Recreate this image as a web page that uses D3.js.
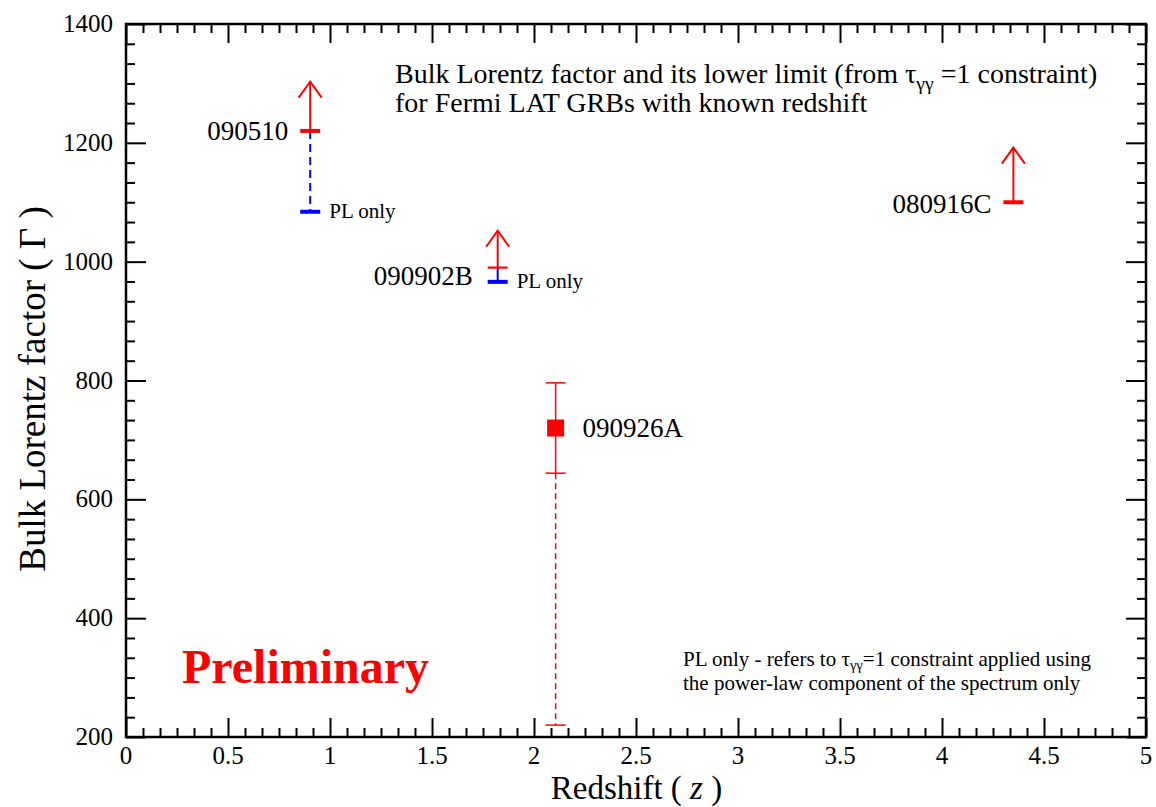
<!DOCTYPE html>
<html><head><meta charset="utf-8">
<script src="https://cdn.jsdelivr.net/npm/d3@7"></script>
<style>body{margin:0;background:#fff}svg text{font-family:"Liberation Serif","Times New Roman",serif}</style>
</head><body><svg id="c" width="1156" height="807"></svg>
<script>
// ---- data ----
const xTicks = [0, 0.5, 1, 1.5, 2, 2.5, 3, 3.5, 4, 4.5, 5];
const yTicks = [200, 400, 600, 800, 1000, 1200, 1400];
// lower limits (tau_gg = 1 constraint)
const limitNames = ["090510", "090902B", "080916C"];
const limitZ = [0.903, 1.822, 4.35];
const limitGamma = [1220, 990, 1100];
const limitArrowTip = [1303, 1052, 1192];
// PL-only lower limits
const plNames = ["090510", "090902B"];
const plZ = [0.903, 1.822];
const plGamma = [1084, 966];
// measured value
const measName = ["090926A"];
const measZ = [2.106];
const measGamma = [720];
const measHigh = [796];
const measLow = [644];
const measLowest = [220];

// ---- layout ----
const svg = d3.select("#c");
const L = 126, R = 1146, T = 24, B = 737;
const x = d3.scaleLinear().domain([0, 5]).range([L, R]);
const y = d3.scaleLinear().domain([200, 1400]).range([B, T]);
const RED = "#ff0000", BLUE = "#0000ff";

// minor ticks
const xMinor = d3.range(0, 5.0001, 0.5 / 6).filter(v => Math.abs(v / 0.5 - Math.round(v / 0.5)) > 1e-6);
const yMinor = d3.range(200, 1400.001, 200 / 6).filter(v => Math.abs(v / 200 - Math.round(v / 200)) > 1e-6);

function axisG(axis, tx, ty) {
  const g = svg.append("g").attr("transform", `translate(${tx},${ty})`).call(axis);
  g.select(".domain").remove();
  g.selectAll("line").attr("stroke", "#000").attr("stroke-width", 2);
  return g;
}
// bottom
const gxb = axisG(d3.axisTop(x).tickValues(xTicks).tickSize(19).tickFormat(d3.format("")), 0, B);
gxb.selectAll("text").remove();
axisG(d3.axisTop(x).tickValues(xMinor).tickSize(9).tickFormat(""), 0, B);
// top
axisG(d3.axisBottom(x).tickValues(xTicks).tickSize(19).tickFormat(""), 0, T);
axisG(d3.axisBottom(x).tickValues(xMinor).tickSize(9).tickFormat(""), 0, T);
// left
axisG(d3.axisRight(y).tickValues(yTicks).tickSize(20).tickFormat(""), L, 0);
axisG(d3.axisRight(y).tickValues(yMinor).tickSize(9).tickFormat(""), L, 0);
// right
axisG(d3.axisLeft(y).tickValues(yTicks).tickSize(20).tickFormat(""), R, 0);
axisG(d3.axisLeft(y).tickValues(yMinor).tickSize(9).tickFormat(""), R, 0);

// tick labels
svg.append("g").selectAll("text").data(xTicks).join("text")
  .attr("x", d => x(d)).attr("y", B + 27).attr("text-anchor", "middle")
  .attr("font-size", 25).text(d => d3.format("")(d));
svg.append("g").selectAll("text").data(yTicks).join("text")
  .attr("x", L - 13).attr("y", d => y(d) + 8).attr("text-anchor", "end")
  .attr("font-size", 25).text(d => d);

// frame
svg.append("rect").attr("x", L).attr("y", T).attr("width", R - L).attr("height", B - T)
  .attr("fill", "none").attr("stroke", "#000").attr("stroke-width", 2.5);

// axis titles
const xt = svg.append("text").attr("x", 636.5).attr("y", 799).attr("text-anchor", "middle").attr("font-size", 33);
xt.append("tspan").text("Redshift ( ");
xt.append("tspan").attr("font-style", "italic").text("z");
xt.append("tspan").text(" )");
svg.append("text").attr("transform", `translate(45,389) rotate(-90)`)
  .attr("text-anchor", "middle").attr("font-size", 37).text("Bulk Lorentz factor ( Γ )");

// ---- marks ----
const capW = 10;
const capStroke = {"090510": 4, "090902B": 2.2, "080916C": 4};
const labelPos = {"090510": [-22, 9], "090902B": [-25, 17], "080916C": [-22, 11]};

// PL-only blue segments
plNames.forEach((n, i) => {
  const li = limitNames.indexOf(n);
  const cx = x(plZ[i]);
  svg.append("line").attr("x1", cx).attr("x2", cx)
    .attr("y1", y(limitGamma[li])).attr("y2", y(plGamma[i]))
    .attr("stroke", BLUE).attr("stroke-width", 2).attr("stroke-dasharray", n === "090510" ? "8,5" : null);
  svg.append("line").attr("x1", cx - capW).attr("x2", cx + capW)
    .attr("y1", y(plGamma[i])).attr("y2", y(plGamma[i])).attr("stroke", BLUE).attr("stroke-width", 4);
  svg.append("text").attr("x", cx + 19).attr("y", y(plGamma[i]) + 6).attr("font-size", 21).text("PL only");
});

// lower limits with arrows
limitNames.forEach((n, i) => {
  const cx = x(limitZ[i]), cy = y(limitGamma[i]), ty = y(limitArrowTip[i]);
  svg.append("line").attr("x1", cx).attr("x2", cx).attr("y1", cy).attr("y2", ty)
    .attr("stroke", RED).attr("stroke-width", 2);
  svg.append("path").attr("d", `M${cx - 11.5},${ty + 16}L${cx},${ty}L${cx + 11.5},${ty + 16}`)
    .attr("fill", "none").attr("stroke", RED).attr("stroke-width", 2);
  svg.append("line").attr("x1", cx - capW).attr("x2", cx + capW).attr("y1", cy).attr("y2", cy)
    .attr("stroke", RED).attr("stroke-width", capStroke[n]);
  const p = labelPos[n];
  svg.append("text").attr("x", cx + p[0]).attr("y", cy + p[1]).attr("text-anchor", "end")
    .attr("font-size", 27).text(n);
});

// measured point with error bar
measName.forEach((n, i) => {
  const cx = x(measZ[i]);
  svg.append("line").attr("x1", cx).attr("x2", cx).attr("y1", y(measHigh[i])).attr("y2", y(measLow[i]))
    .attr("stroke", RED).attr("stroke-width", 1.5);
  svg.append("line").attr("x1", cx).attr("x2", cx).attr("y1", y(measLow[i])).attr("y2", y(measLowest[i]))
    .attr("stroke", RED).attr("stroke-width", 1.5).attr("stroke-dasharray", "6,4");
  [measHigh[i], measLow[i], measLowest[i]].forEach(v => {
    svg.append("line").attr("x1", cx - capW).attr("x2", cx + capW).attr("y1", y(v)).attr("y2", y(v))
      .attr("stroke", RED).attr("stroke-width", 1.5);
  });
  svg.append("rect").attr("x", cx - 8.5).attr("y", y(measGamma[i]) - 8.5).attr("width", 17).attr("height", 17).attr("fill", RED);
  svg.append("text").attr("x", cx + 27).attr("y", y(measGamma[i]) + 9).attr("font-size", 27).text(n);
});

// annotations
function tauText(g, xx, yy, fs, before, after, sub) {
  const t = g.append("text").attr("x", xx).attr("y", yy).attr("font-size", fs);
  t.append("tspan").text(before + "τ");
  t.append("tspan").attr("font-size", fs * 0.7).attr("dy", fs * sub).text("γγ");
  t.append("tspan").attr("dy", -fs * sub).text(after);
  return t;
}
tauText(svg, 395, 83, 28, "Bulk Lorentz factor and its lower limit (from ", " =1 constraint)", 0.25);
svg.append("text").attr("x", 395).attr("y", 112).attr("font-size", 28).text("for Fermi LAT GRBs with known redshift");

svg.append("text").attr("x", 182).attr("y", 683).attr("font-size", 48).attr("font-weight", "bold")
  .attr("fill", RED).text("Preliminary");

tauText(svg, 683, 666, 21, "PL only - refers to ", "=1 constraint applied using", 0.2);
svg.append("text").attr("x", 683).attr("y", 690).attr("font-size", 21).text("the power-law component of the spectrum only");
</script></body></html>
